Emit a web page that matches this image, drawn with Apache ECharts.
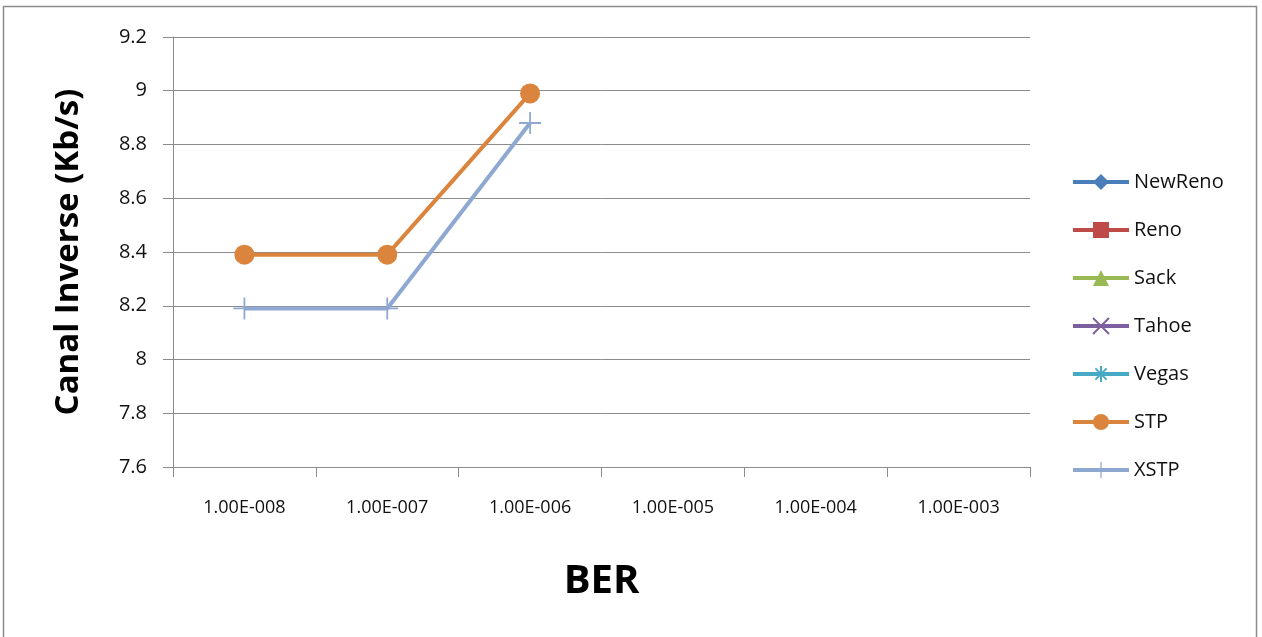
<!DOCTYPE html>
<html>
<head>
<meta charset="utf-8">
<script src="https://cdn.jsdelivr.net/npm/echarts@6/dist/echarts.min.js"></script>
<style>
  html, body { margin: 0; padding: 0; background: #fff; }
  #chart { width: 1262px; height: 637px; }
</style>
</head>
<body>
<div id="chart"></div>
<script>
// BER categories on the x axis
const categories = ['1.00E-008', '1.00E-007', '1.00E-006', '1.00E-005', '1.00E-004', '1.00E-003'];

// Inverse channel throughput (Kb/s) per protocol
const newRenoValues = [];
const renoValues = [];
const sackValues = [];
const tahoeValues = [];
const vegasValues = [];
const stpValues = [8.39, 8.39, 8.99];
const xstpValues = [8.19, 8.19, 8.88];

const seriesNames = ['NewReno', 'Reno', 'Sack', 'Tahoe', 'Vegas', 'STP', 'XSTP'];

const crossPath = 'path://M0,0 L10,10 M10,0 L0,10';
const starPath = 'path://M5,0 L5,10 M0,5 L10,5 M1.5,1.5 L8.5,8.5 M8.5,1.5 L1.5,8.5';
const plusPath = 'path://M4.6,0 L5.4,0 L5.4,4.6 L10,4.6 L10,5.4 L5.4,5.4 L5.4,10 L4.6,10 L4.6,5.4 L0,5.4 L0,4.6 L4.6,4.6 Z';

const styles = [
  { color: '#4A7EBB', symbol: 'diamond', size: 16 },
  { color: '#BE4B48', symbol: 'rect', size: 15 },
  { color: '#98B954', symbol: 'triangle', size: 16 },
  { color: '#7D60A0', symbol: crossPath, size: 15, stroke: true },
  { color: '#46AAC5', symbol: starPath, size: 15, stroke: true },
  { color: '#DB843D', symbol: 'circle', size: 20 },
  { color: '#8EA8D2', symbol: plusPath, size: 22 }
];

const dataSets = [newRenoValues, renoValues, sackValues, tahoeValues, vegasValues, stpValues, xstpValues];

const series = seriesNames.map((name, i) => {
  const s = styles[i];
  return {
    name: name,
    type: 'line',
    data: dataSets[i],
    symbol: s.symbol,
    symbolSize: s.size,
    showAllSymbol: true,
    lineStyle: { color: s.color, width: 4 },
    itemStyle: s.stroke
      ? { color: 'transparent', borderColor: s.color, borderWidth: 1.5 }
      : { color: s.color },
    emphasis: { disabled: true },
    animation: false,
    z: 10 - i
  };
});

const chart = echarts.init(document.getElementById('chart'), null, { renderer: 'canvas' });

chart.setOption({
  backgroundColor: '#ffffff',
  animation: false,
  textStyle: { fontFamily: 'Open Sans' },
  graphic: [{
    type: 'rect',
    shape: { x: 3.5, y: 6.5, width: 1253, height: 640 },
    style: { fill: 'none', stroke: '#8c8c8c', lineWidth: 1.5 },
    silent: true
  }],
  grid: { left: 173, right: 232, top: 37, bottom: 170, containLabel: false },
  legend: {
    orient: 'vertical',
    left: 1066,
    top: 167,
    itemWidth: 56,
    itemHeight: 20,
    itemGap: 28,
    data: seriesNames,
    lineStyle: { width: 4 },
    textStyle: { fontSize: 20, color: '#111', fontFamily: 'Open Sans' },
    selectedMode: false
  },
  xAxis: {
    type: 'category',
    data: categories,
    boundaryGap: true,
    name: 'BER',
    nameLocation: 'middle',
    nameGap: 95,
    nameTextStyle: { fontSize: 40, fontWeight: 'bold', color: '#000', fontFamily: 'Open Sans' },
    axisLine: { lineStyle: { color: '#8c8c8c', width: 1 } },
    axisTick: { show: true, alignWithLabel: false, length: 10, lineStyle: { color: '#8c8c8c' } },
    axisLabel: { fontSize: 18, color: '#111', margin: 32, interval: 0 },
    splitLine: { show: false }
  },
  yAxis: {
    type: 'value',
    min: 7.6,
    max: 9.2,
    interval: 0.2,
    name: 'Canal Inverse (Kb/s)',
    nameLocation: 'middle',
    nameGap: 88,
    nameRotate: 90,
    nameTextStyle: { fontSize: 33, fontWeight: 'bold', color: '#000', fontFamily: 'Open Sans' },
    axisLine: { show: true, lineStyle: { color: '#8c8c8c', width: 1 } },
    axisTick: { show: true, length: 10, lineStyle: { color: '#8c8c8c' } },
    axisLabel: {
      fontSize: 20,
      color: '#111',
      margin: 26,
      formatter: v => String(Math.round(v * 10) / 10)
    },
    splitLine: { show: true, lineStyle: { color: '#8c8c8c', width: 1 } }
  },
  series: series
});
</script>
</body>
</html>
